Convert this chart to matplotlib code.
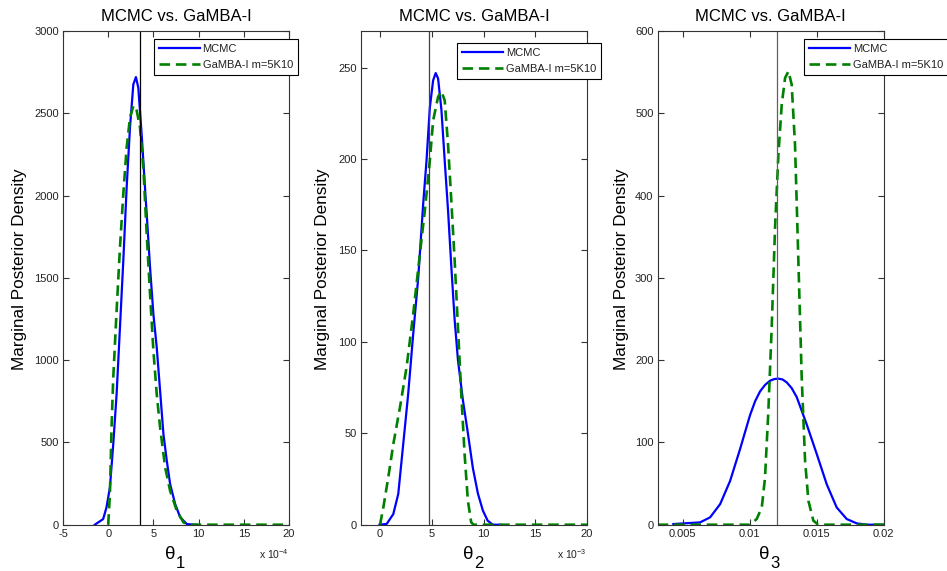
import matplotlib
matplotlib.use("Agg")
import matplotlib.pyplot as plt
from matplotlib.transforms import offset_copy

plt.rcParams['font.family'] = ['Liberation Sans', 'DejaVu Sans']
plt.rcParams['mathtext.fontset'] = 'custom'
plt.rcParams['mathtext.rm'] = 'Liberation Sans'
plt.rcParams['mathtext.it'] = 'Liberation Sans'
plt.rcParams['mathtext.bf'] = 'Liberation Sans:bold'

# ---------------- data ----------------
# Panel 1: theta_1 (x in units of 1e-4)
mcmc1_x = [-1.48, -0.56, -0.19, 0.19, 0.56, 0.93, 1.30, 1.67, 2.04, 2.41, 2.78, 3.07, 3.33,
           3.70, 4.07, 4.33, 4.63, 5.0, 5.37, 5.74, 6.11, 6.48, 6.85, 7.41, 7.96, 8.7, 9.44, 9.8]
mcmc1_y = [0, 34, 105, 227, 490, 793, 1198, 1603, 2048, 2413, 2676, 2720, 2655,
           2372, 2048, 1826, 1563, 1279, 1077, 814, 550, 389, 247, 125, 45, 4, 0, 0]
gam1_x = [0.0, 0.19, 0.37, 0.56, 0.93, 1.30, 1.67, 2.04, 2.41, 2.78, 3.07, 3.52, 3.89, 4.26,
          4.63, 5.0, 5.37, 5.74, 6.30, 6.85, 7.59, 8.33, 8.9, 20.0]
gam1_y = [0, 186, 591, 895, 1300, 1684, 2008, 2291, 2473, 2544, 2540, 2413, 2170, 1765,
          1400, 1057, 793, 591, 348, 206, 85, 14, 0, 0]
true1 = 3.5

# Panel 2: theta_2 (x in units of 1e-3)
mcmc2_x = [-0.05, 0.64, 1.28, 1.76, 2.24, 2.72, 3.2, 3.69, 4.17, 4.49, 4.81, 5.13, 5.38, 5.61,
           5.93, 6.25, 6.57, 6.89, 7.21, 7.53, 8.01, 8.49, 8.97, 9.46, 9.94, 10.4, 10.9, 11.6]
mcmc2_y = [0, 0.4, 5.8, 16.8, 44, 71.5, 104, 135, 175.5, 199, 228, 243, 247, 244,
           227, 199, 172, 141, 112, 90, 68, 50, 31, 17, 7.7, 2.2, 0, 0]
gam2_x = [0.0, 0.32, 0.8, 1.28, 1.92, 2.56, 3.2, 3.85, 4.33, 4.81, 5.13, 5.61, 5.93, 6.25,
          6.57, 6.89, 7.21, 7.53, 7.85, 8.17, 8.49, 8.81, 9.04, 20.0]
gam2_y = [0, 9.5, 26, 44, 64, 86, 115, 148, 172, 199, 221, 234, 237, 232,
          208, 177, 144.5, 108, 71.5, 38.7, 13, 1.3, 0, 0]
true2 = 4.71

# Panel 3: theta_3
mcmc3_x = [0.0043, 0.00629, 0.00704, 0.00779, 0.00853, 0.00928, 0.01002, 0.0104, 0.01077,
           0.01115, 0.01152, 0.01183, 0.01214, 0.01245, 0.01276, 0.01313, 0.01351, 0.01425,
           0.0150, 0.01575, 0.01649, 0.01724, 0.01799, 0.01873, 0.0200]
mcmc3_y = [0.8, 2.8, 8.9, 25, 53, 92, 133, 150, 162, 170, 175, 177, 177.5, 176.5, 173, 166,
           155, 122, 86, 49, 21, 6.9, 1.6, 0, 0]
gam3_x = [0.00313, 0.01002, 0.01052, 0.0109, 0.01114, 0.01139, 0.01164, 0.01189, 0.01214,
          0.01239, 0.01264, 0.01289, 0.01313, 0.01338, 0.01363, 0.01388, 0.01413, 0.01438,
          0.01475, 0.01512, 0.0200]
gam3_y = [0, 0, 6.9, 21, 57, 138, 240, 361, 450, 511, 543, 551, 535, 462, 321, 179, 78, 29,
          4.9, 0, 0]
true3 = 0.0120

panels = [
    dict(mx=mcmc1_x, my=mcmc1_y, gx=gam1_x, gy=gam1_y, true=true1, xlim=(-5, 20),
         xticks=[-5, 0, 5, 10, 15, 20], xtl=['-5', '0', '5', '10', '15', '20'],
         ylim=(0, 3000), yticks=[0, 500, 1000, 1500, 2000, 2500, 3000],
         sub='1', scale='-4', vcol='black', left=63,
         leg=(153.7, 39), ylab_x=-0.161),
    dict(mx=mcmc2_x, my=mcmc2_y, gx=gam2_x, gy=gam2_y, true=true2, xlim=(-1.84, 20),
         xticks=[0, 5, 10, 15, 20], xtl=['0', '5', '10', '15', '20'],
         ylim=(0, 270), yticks=[0, 50, 100, 150, 200, 250],
         sub='2', scale='-3', vcol='#404040', left=361,
         leg=(457, 43), ylab_x=-0.135),
    dict(mx=mcmc3_x, my=mcmc3_y, gx=gam3_x, gy=gam3_y, true=true3, xlim=(0.00313, 0.02),
         xticks=[0.005, 0.01, 0.015, 0.02], xtl=['0.005', '0.01', '0.015', '0.02'],
         ylim=(0, 600), yticks=[0, 100, 200, 300, 400, 500, 600],
         sub='3', scale=None, vcol='#606060', left=657.7,
         leg=(804, 39), ylab_x=-0.129),
]

W, H = 947, 571
fig = plt.figure(figsize=(W / 100, H / 100), dpi=100)
fig.patch.set_facecolor('white')

top_px, bot_px, width_px = 31, 524.7, 226
for p in panels:
    ax = fig.add_axes([p['left'] / W, (H - bot_px) / H, width_px / W, (bot_px - top_px) / H])
    ax.plot(p['mx'], p['my'], color='#0000ff', lw=1.6, label='MCMC')
    ax.plot(p['gx'], p['gy'], color='#008000', lw=1.9, ls=(0, (4, 2.2)), label='GaMBA-I m=5K10')
    ax.axvline(p['true'], color=p['vcol'], lw=0.9)
    ax.set_xlim(*p['xlim'])
    ax.set_ylim(*p['ylim'])
    ax.set_xticks(p['xticks'])
    ax.set_xticklabels(p['xtl'])
    ax.set_yticks(p['yticks'])
    ax.tick_params(direction='in', top=True, right=True, length=4, width=0.8,
                   labelsize=8, colors='#333333', labelcolor='#222222', pad=3)
    for s in ax.spines.values():
        s.set_color('#333333')
        s.set_linewidth(0.8)
    ax.set_title('MCMC vs. GaMBA-I', fontsize=12, pad=7, color='black')
    ax.set_ylabel('Marginal Posterior Density', fontsize=12.3, color='black')
    ax.yaxis.set_label_coords(p['ylab_x'], 0.518)
    # x label: theta with a large subscript (as in the original figure)
    t_theta = offset_copy(ax.transAxes, fig=fig, x=-6, y=-34.5, units='dots')
    ax.text(0.5, 0.0, 'θ', transform=t_theta, ha='center', va='baseline',
            fontsize=13.5, color='black')
    t_sub = offset_copy(ax.transAxes, fig=fig, x=4.5, y=-43, units='dots')
    ax.text(0.5, 0.0, p['sub'], transform=t_sub, ha='center', va='baseline',
            fontsize=12, color='black')
    if p['scale']:
        ax.text(1.0, -0.045, r'x 10$^{%s}$' % p['scale'], transform=ax.transAxes,
                ha='right', va='top', fontsize=7.5, color='#222222')
    lx, ly = p['leg']
    leg = ax.legend(loc='upper left', bbox_to_anchor=(lx / W, 1 - ly / H),
                    bbox_transform=fig.transFigure, borderaxespad=0, fontsize=8,
                    frameon=True, fancybox=False, framealpha=1, edgecolor='black',
                    handlelength=3.7, handletextpad=0.25, borderpad=0.45, labelspacing=0.5)
    leg.get_frame().set_linewidth(0.8)
    for t in leg.get_texts():
        t.set_color('#222222')

fig.savefig('out.png', dpi=100)
